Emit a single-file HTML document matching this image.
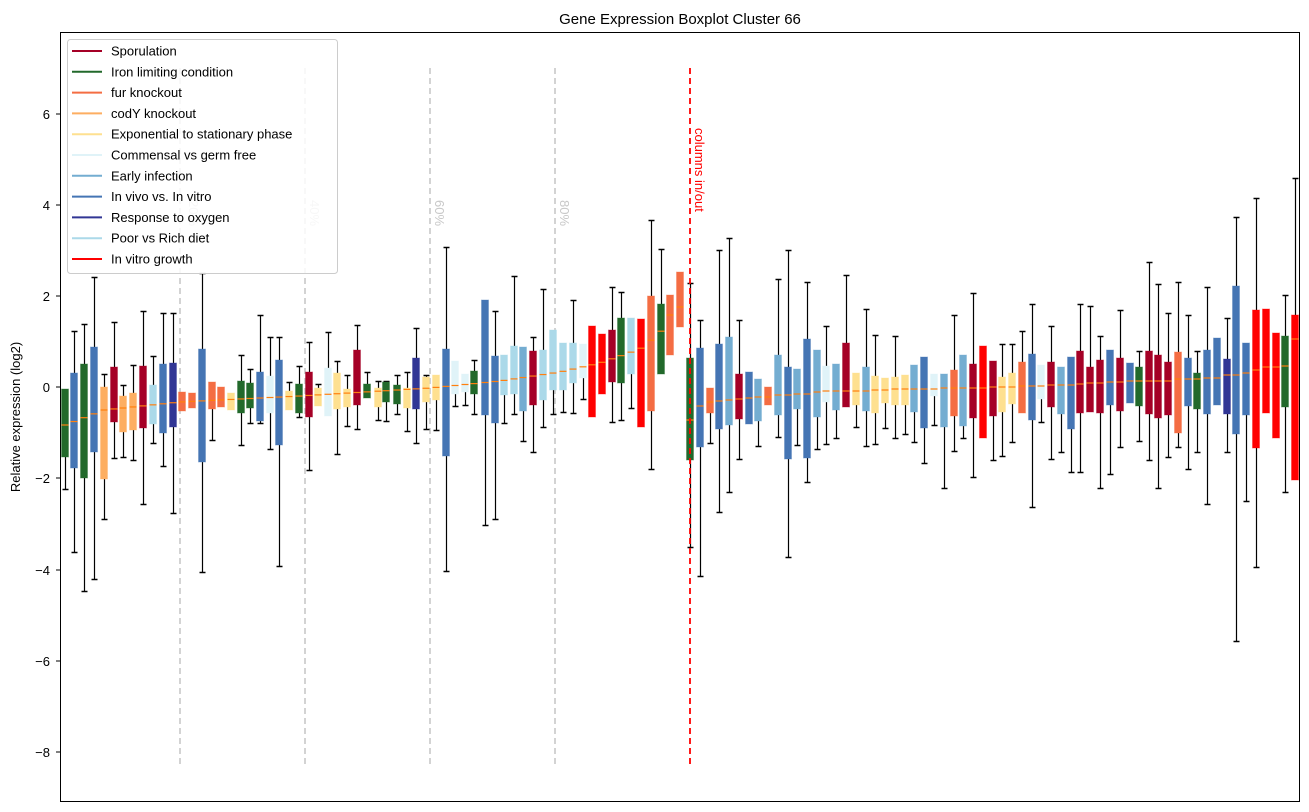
<!DOCTYPE html>
<html><head><meta charset="utf-8"><style>
html,body{margin:0;padding:0;background:#fff;}
svg{display:block;font-family:"Liberation Sans","DejaVu Sans",sans-serif;}
</style></head><body>
<svg id="s" width="1309" height="812" viewBox="0 0 1309 812" xmlns="http://www.w3.org/2000/svg">
<rect x="0" y="0" width="1309" height="812" fill="#fff"/>
<text x="680" y="24" font-size="15" text-anchor="middle">Gene Expression Boxplot Cluster 66</text>
<text transform="translate(20,417) rotate(-90)" font-size="13" text-anchor="middle">Relative expression (log2)</text>
<g id="g"></g>
<rect x="60.5" y="32.5" width="1239" height="769" fill="none" stroke="#000" stroke-width="1"/>
<g font-size="13" text-anchor="end">
<text x="50" y="119">6</text><text x="50" y="210">4</text><text x="50" y="301">2</text><text x="50" y="392">0</text>
<text x="50" y="483">−2</text><text x="50" y="575">−4</text><text x="50" y="666">−6</text><text x="50" y="757">−8</text>
</g>
<g stroke="#000"><line x1="56" x2="60" y1="114" y2="114"/><line x1="56" x2="60" y1="205" y2="205"/><line x1="56" x2="60" y1="296" y2="296"/><line x1="56" x2="60" y1="387" y2="387"/><line x1="56" x2="60" y1="478" y2="478"/><line x1="56" x2="60" y1="570" y2="570"/><line x1="56" x2="60" y1="661" y2="661"/><line x1="56" x2="60" y1="752" y2="752"/></g>
<g id="lg"></g>
</svg>
<script>
var C={S:"#a50026",I:"#22692b",F:"#f46d43",D:"#fdae61",E:"#fee090",C:"#e0f3f8",R:"#74add1",V:"#4575b4",O:"#313695",P:"#abd9e9",X:"#ff0000"};
var B=[
[65,389,457,389,490,"I"],[74,373,468,331,553,"V"],[84,364,478,324,592,"I"],[94,347,452,277,580,"V"],[104,387,479,374,520,"D",410],
[114,367,422,322,459,"S"],[123,396,432,385,458,"D"],[133,393,430,365,461,"D"],[143,366,428,311,505,"S"],[153,385,424,356,444,"P"],
[163,364,433,313,467,"V"],[173,363,427,313,514,"O"],[182,392,411,392,411,"F"],[192,393,408,393,408,"F"],[202,349,462,273,573,"V"],
[212,382,409,382,441,"F"],[221,387,407,387,407,"F"],[231,393,410,393,410,"E"],[241,381,413,355,446,"I"],[250,383,408,369,424,"I"],
[260,372,421,315,424,"V"],[270,376,413,337,450,"C"],[279,360,445,337,567,"V"],[289,391,410,382,410,"E"],[299,384,413,366,418,"I"],
[309,372,417,342,471,"S"],[318,388,406,384,406,"E"],[328,368,416,332,416,"C"],[337,373,409,361,455,"E"],[347,389,407,375,427,"E"],
[357,350,405,325,430,"S"],[367,384,398,372,398,"I"],[378,388,407,381,421,"E"],[386,382,402,381,422,"I"],[397,385,404,375,415,"I"],
[407,388,408,372,432,"E"],[416,358,409,328,444,"O"],[426,377,402,375,430,"E"],[436,375,400,375,431,"E"],[446,349,456,247,572,"V"],
[455,361,394,361,407,"C"],[465,374,392,374,406,"C"],[474,371,394,360,415,"I"],[485,300,415,300,526,"V"],[495,356,423,311,520,"V"],
[504,355,395,355,424,"P"],[514,346,394,276,415,"P"],[523,347,411,347,442,"R"],[533,351,405,337,453,"S"],[543,350,400,289,428,"P"],
[553,330,390,330,415,"P"],[563,343,390,343,413,"P"],[573,343,383,300,414,"P"],[583,344,378,344,400,"C"],[592,326,417,326,417,"X"],
[602,334,394,334,394,"X"],[612,330,382,287,423,"S"],[621,318,383,292,421,"I"],[631,318,374,318,409,"P"],[641,319,427,319,427,"X"],
[651,296,411,220,470,"F"],[661,304,374,249,374,"I"],[670,295,355,295,355,"F"],[680,272,327,272,327,"F"],
[690,358,460,283,548,"I",420],[700,348,447,320,577,"V",406],[710,388,413,388,444,"F",402],[719,344,429,250,513,"V",401],[729,337,425,238,493,"R",400],
[739,374,419,320,460,"S",399],[749,372,424,372,424,"V",398],[758,379,421,379,447,"R",397],[768,387,405,387,405,"F",397],[778,355,415,279,438,"R",395],
[788,367,459,250,558,"V",395],[797,369,409,369,446,"R",394],[807,339,458,282,483,"V",394],[817,350,417,350,450,"R",392],[826,366,402,326,445,"C",391],
[836,364,410,364,439,"R",391],[846,343,407,275,407,"S",391],[856,373,405,373,428,"E",391],[866,367,411,309,447,"R",391],[875,376,413,335,445,"E",390],
[885,378,403,378,429,"E",390],[895,377,405,336,439,"E",389],[905,375,405,375,435,"E",389],[914,365,412,365,443,"R",389],[924,357,428,357,464,"V",389],
[934,374,396,374,426,"C",389],[944,374,427,374,489,"R",388],[954,370,416,315,452,"F",388],[963,355,426,355,439,"R",388],[973,364,418,293,478,"S",388],
[983,346,438,346,438,"X",388],[993,361,416,361,461,"S",387],[1002,377,412,344,457,"E",387],[1012,373,404,344,443,"E",387],[1022,362,413,331,413,"F",386],
[1032,354,420,304,508,"V",386],[1041,365,399,365,423,"C",386],[1051,362,407,326,460,"S",385],[1061,367,414,367,453,"R",385],[1071,357,429,357,473,"V",385],
[1080,351,413,304,473,"S",384],[1090,367,412,306,412,"S",383],[1100,360,413,336,489,"S",383],[1110,350,405,350,475,"V",382],[1120,358,411,310,448,"S",382],
[1130,363,403,363,403,"V",381],[1139,367,406,351,442,"I",381],[1149,351,414,262,461,"S",381],[1158,355,418,284,489,"S",381],[1168,362,415,313,458,"S",381],
[1178,352,433,282,448,"F",379],[1188,358,406,315,470,"V",379],[1197,373,409,351,453,"I",379],[1207,350,414,287,505,"V",378],[1217,338,405,338,405,"V",378],
[1227,359,414,318,453,"O",375],[1236,286,434,217,642,"V",375],[1246,343,415,343,502,"V",373],[1256,310,448,198,568,"X",370],[1266,309,413,309,413,"X",367],
[1276,333,438,333,438,"X",367],[1285,336,407,295,493,"I",366],[1295,315,480,178,480,"X",339]
];
var T=[[65,425],[104,410],[180,402],[300,396],[430,388],[500,381],[560,372],[600,363],[640,349],[660,333],[670,315],[680,307]];
function med(x){for(var i=0;i<T.length-1;i++){if(x<=T[i+1][0]){var a=T[i],b=T[i+1];return a[1]+(b[1]-a[1])*(x-a[0])/(b[0]-a[0]);}}return T[T.length-1][1];}
var h="";
function L(x1,y1,x2,y2,st,extra){return '<line x1="'+x1+'" y1="'+y1+'" x2="'+x2+'" y2="'+y2+'" stroke="'+st+'" '+(extra||'')+'/>';}
[180,305,430,555].forEach(function(x){h+=L(x,68,x,767,"#c8c8c8",'stroke-width="1.6" stroke-dasharray="6,4"');});
h+='<text transform="translate(310,200) rotate(90)" font-size="13" fill="#c8c8c8">40%</text>';
h+='<text transform="translate(435,200) rotate(90)" font-size="13" fill="#c8c8c8">60%</text>';
h+='<text transform="translate(560,200) rotate(90)" font-size="13" fill="#c8c8c8">80%</text>';
h+='<text transform="translate(189,200) rotate(90)" font-size="13" fill="#c8c8c8">20%</text>';
B.forEach(function(b){
  var x=b[0],t=b[1],bo=b[2],wt=b[3],wb=b[4],c=C[b[5]];var xw=x+0.5;
  if(wt<t){h+=L(xw,wt,xw,t,"#000",'stroke-width="1.2"');h+=L(x-2.5,wt+0.5,x+3.5,wt+0.5,"#000",'stroke-width="1.5"');}
  if(wb>bo){h+=L(xw,bo,xw,wb,"#000",'stroke-width="1.2"');h+=L(x-2.5,wb-0.5,x+3.5,wb-0.5,"#000",'stroke-width="1.5"');}
  h+='<rect x="'+(x-3.5)+'" y="'+t+'" width="7" height="'+(bo-t)+'" fill="'+c+'" stroke="'+c+'" stroke-opacity="0.35" stroke-width="1"/>';
  var m=b[6]||med(x); if(m<t)m=t+1; if(m>bo)m=bo-1;
  h+=L(x-3.5,m,x+3.5,m,"#ff7f0e",'stroke-width="1.2"');
});
h+=L(690,68,690,767,"#ff0000",'stroke-width="1.8" stroke-dasharray="6,4"');
h+='<text transform="translate(695,128) rotate(90)" font-size="13" fill="#ff0000">columns in/out</text>';
document.getElementById("g").innerHTML=h;
var names=[["Sporulation","S"],["Iron limiting condition","I"],["fur knockout","F"],["codY knockout","D"],["Exponential to stationary phase","E"],["Commensal vs germ free","C"],["Early infection","R"],["In vivo vs. In vitro","V"],["Response to oxygen","O"],["Poor vs Rich diet","P"],["In vitro growth","X"]];
var g='<rect x="67.5" y="39.5" width="270" height="234" rx="3" fill="#fff" fill-opacity="0.85" stroke="#ccc"/>';
names.forEach(function(n,i){var y=51+i*20.8;g+=L(72,y,102,y,C[n[1]],'stroke-width="2"');g+='<text x="111" y="'+(y+4.5)+'" font-size="13">'+n[0]+'</text>';});
document.getElementById("lg").innerHTML=g;
</script>
</body></html>
